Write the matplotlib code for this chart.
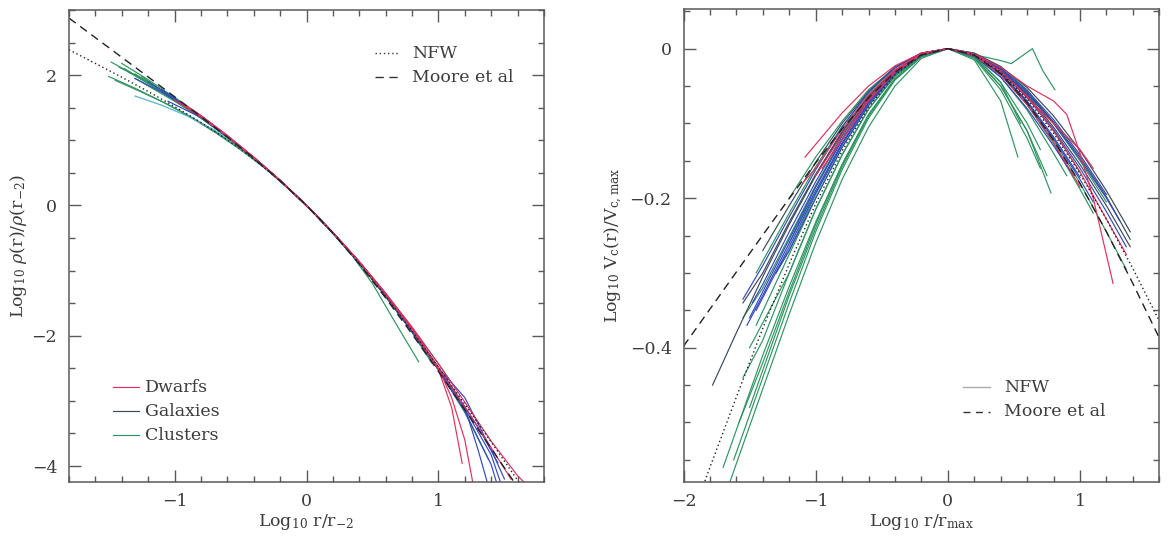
import matplotlib
matplotlib.use('Agg')
import matplotlib.pyplot as plt
from matplotlib.ticker import MultipleLocator
from matplotlib.lines import Line2D

plt.rcParams['font.family'] = ['DejaVu Serif']
plt.rcParams['mathtext.fontset'] = 'dejavuserif'

# ---------------- left panel: density profiles ----------------
nfw_rho_x = [-1.8, -1.6, -1.4, -1.2, -1.0, -0.8, -0.6, -0.4, -0.2, 0.0, 0.2, 0.4, 0.6, 0.8, 1.0, 1.2, 1.4, 1.6, 1.7]
nfw_rho_y = [2.39, 2.18, 1.968, 1.749, 1.519, 1.274, 1.007, 0.711, 0.377, 0.0, -0.423, -0.889, -1.392, -1.926, -2.481, -3.051, -3.632, -4.219, -4.515]
moore_rho_x = [-1.8, -1.6, -1.4, -1.2, -1.0, -0.8, -0.6, -0.4, -0.2, 0.0, 0.2, 0.4, 0.6, 0.8, 1.0, 1.2, 1.4, 1.6, 1.7]
moore_rho_y = [2.876, 2.575, 2.274, 1.973, 1.669, 1.362, 1.050, 0.725, 0.379, 0.0, -0.424, -0.900, -1.420, -1.974, -2.549, -3.136, -3.730, -4.326, -4.625]

cluster_rho_x = [
    [-1.42, -1.2, -1.0, -0.8, -0.6, -0.4, -0.2, 0.0, 0.2, 0.4, 0.6, 0.8, 1.0],
    [-1.35, -1.2, -1.0, -0.8, -0.6, -0.4, -0.2, 0.0, 0.2, 0.4, 0.6, 0.8, 0.95],
    [-1.5, -1.3, -1.1, -0.9, -0.7, -0.5, -0.3, -0.1, 0.1, 0.3, 0.5, 0.7, 0.85],
    [-1.3, -1.0, -0.8, -0.6, -0.4, -0.2, 0.0, 0.2, 0.35, 0.5, 0.65, 0.85],
    [-1.4, -1.2, -1.0, -0.8, -0.6, -0.4, -0.2, 0.0, 0.2, 0.4, 0.6, 0.8, 1.0, 1.1],
    [-1.25, -1.0, -0.8, -0.6, -0.4, -0.2, 0.0, 0.2, 0.4, 0.6, 0.8, 0.95],
    [-1.2, -1.0, -0.8, -0.6, -0.4, -0.2, 0.0, 0.2, 0.4, 0.6, 0.8, 1.0, 1.05],
    [-1.38, -1.2, -1.0, -0.8, -0.6, -0.4, -0.2, 0.0, 0.2, 0.4, 0.6, 0.8, 1.0, 1.2, 1.38],
    [-1.48, -1.3, -1.1, -0.9, -0.7, -0.5, -0.3, -0.1, 0.1, 0.3, 0.5, 0.7],
    [-1.45, -1.25, -1.05, -0.85, -0.65, -0.45, -0.25, -0.05, 0.15, 0.35, 0.55, 0.75],
    [-1.3, -1.1, -0.9, -0.7, -0.5, -0.3, -0.1, 0.1, 0.3, 0.5, 0.7, 0.9, 1.0],
]
cluster_rho_y = [
    [2.12, 1.90, 1.64, 1.37, 1.06, 0.73, 0.38, 0.0, -0.42, -0.87, -1.36, -1.90, -2.50],
    [2.05, 1.87, 1.62, 1.36, 1.05, 0.73, 0.38, 0.0, -0.42, -0.88, -1.38, -1.93, -2.40],
    [1.98, 1.80, 1.60, 1.38, 1.13, 0.855, 0.545, 0.19, -0.205, -0.65, -1.135, -1.66, -2.07],
    [1.95, 1.60, 1.34, 1.05, 0.73, 0.38, 0.0, -0.43, -0.78, -1.20, -1.72, -2.40],
    [2.18, 1.93, 1.66, 1.38, 1.07, 0.74, 0.385, 0.0, -0.415, -0.86, -1.35, -1.87, -2.43, -2.72],
    [1.98, 1.62, 1.35, 1.05, 0.73, 0.38, 0.0, -0.42, -0.88, -1.39, -1.95, -2.42],
    [1.88, 1.61, 1.34, 1.05, 0.73, 0.38, 0.0, -0.42, -0.88, -1.38, -1.93, -2.52, -2.68],
    [2.10, 1.88, 1.63, 1.36, 1.06, 0.735, 0.383, 0.0, -0.42, -0.88, -1.38, -1.93, -2.52, -3.18, -3.90],
    [2.20, 2.00, 1.77, 1.51, 1.22, 0.90, 0.56, 0.195, -0.205, -0.65, -1.14, -1.67],
    [1.92, 1.74, 1.55, 1.33, 1.08, 0.80, 0.47, 0.095, -0.31, -0.76, -1.26, -1.79],
    [2.02, 1.76, 1.50, 1.21, 0.89, 0.555, 0.19, -0.205, -0.65, -1.14, -1.66, -2.22, -2.50],
]
cyan_rho_x = [-1.3, -1.1, -0.9, -0.7, -0.5, -0.3, -0.1, 0.1, 0.3, 0.5, 0.7, 0.9]
cyan_rho_y = [1.68, 1.54, 1.37, 1.16, 0.90, 0.57, 0.19, -0.21, -0.66, -1.14, -1.66, -2.20]

galaxy_rho_x = [
    [-1.1, -1.0, -0.8, -0.6, -0.4, -0.2, 0.0, 0.2, 0.4, 0.6, 0.8, 1.0, 1.2, 1.4, 1.47],
    [-1.0, -0.8, -0.6, -0.4, -0.2, 0.0, 0.2, 0.4, 0.6, 0.8, 1.0, 1.2, 1.4, 1.44],
    [-0.9, -0.8, -0.6, -0.4, -0.2, 0.0, 0.2, 0.4, 0.6, 0.8, 1.0, 1.1, 1.2, 1.3, 1.4, 1.5],
    [-1.2, -1.0, -0.8, -0.6, -0.4, -0.2, 0.0, 0.2, 0.4, 0.6, 0.8, 1.0, 1.2, 1.3, 1.37],
    [-1.05, -0.8, -0.6, -0.4, -0.2, 0.0, 0.2, 0.4, 0.6, 0.8, 1.0, 1.2],
    [-1.3, -1.1, -0.9, -0.7, -0.5, -0.3, -0.1, 0.1, 0.3, 0.5, 0.7, 0.9, 1.1, 1.3, 1.45],
]
galaxy_rho_y = [
    [1.78, 1.64, 1.37, 1.06, 0.735, 0.383, 0.0, -0.418, -0.872, -1.37, -1.91, -2.49, -3.12, -3.83, -4.25],
    [1.63, 1.36, 1.06, 0.73, 0.38, 0.0, -0.42, -0.875, -1.375, -1.92, -2.51, -3.16, -3.98, -4.25],
    [1.50, 1.37, 1.06, 0.735, 0.383, 0.0, -0.418, -0.87, -1.37, -1.90, -2.50, -2.72, -2.95, -3.35, -3.75, -4.20],
    [1.90, 1.64, 1.36, 1.06, 0.735, 0.383, 0.0, -0.418, -0.87, -1.37, -1.91, -2.49, -3.10, -3.75, -4.25],
    [1.60, 1.35, 1.05, 0.73, 0.38, 0.0, -0.42, -0.88, -1.39, -1.94, -2.53, -3.15],
    [1.95, 1.74, 1.50, 1.22, 0.90, 0.56, 0.19, -0.205, -0.648, -1.13, -1.65, -2.20, -2.78, -3.40, -3.95],
]

dwarf_rho_x = [
    [-0.95, -0.8, -0.6, -0.4, -0.2, 0.0, 0.2, 0.4, 0.6, 0.8, 1.0, 1.1, 1.2, 1.26],
    [-0.9, -0.8, -0.6, -0.4, -0.2, 0.0, 0.2, 0.4, 0.6, 0.8, 1.0, 1.2, 1.4, 1.6, 1.65],
    [-0.85, -0.6, -0.4, -0.2, 0.0, 0.2, 0.4, 0.6, 0.8, 1.0, 1.1, 1.18],
    [-1.0, -0.8, -0.6, -0.4, -0.2, 0.0, 0.2, 0.4, 0.6, 0.8, 1.0, 1.2, 1.4, 1.55],
    [-0.95, -0.8, -0.6, -0.4, -0.2, 0.0, 0.2, 0.4, 0.6, 0.8, 0.9],
]
dwarf_rho_y = [
    [1.58, 1.38, 1.075, 0.74, 0.385, 0.0, -0.415, -0.865, -1.355, -1.89, -2.50, -2.95, -3.60, -4.25],
    [1.50, 1.37, 1.065, 0.735, 0.383, 0.0, -0.416, -0.866, -1.35, -1.87, -2.43, -3.02, -3.62, -4.15, -4.25],
    [1.45, 1.07, 0.74, 0.385, 0.0, -0.42, -0.87, -1.36, -1.90, -2.52, -3.10, -3.96],
    [1.62, 1.36, 1.06, 0.73, 0.38, 0.0, -0.42, -0.87, -1.37, -1.91, -2.49, -3.10, -3.72, -4.20],
    [1.56, 1.37, 1.07, 0.74, 0.386, 0.0, -0.414, -0.862, -1.35, -1.88, -2.16],
]

# ---------------- right panel: circular velocity ----------------
nfw_v_x = [-2.0, -1.8, -1.6, -1.4, -1.2, -1.0, -0.8, -0.6, -0.4, -0.2, 0.0, 0.2, 0.4, 0.6, 0.8, 1.0, 1.2, 1.4, 1.6]
nfw_v_y = [-0.657, -0.560, -0.466, -0.374, -0.288, -0.2076, -0.1368, -0.0783, -0.0350, -0.0086, 0.0, -0.0082, -0.0314, -0.0671, -0.1131, -0.1674, -0.2282, -0.2941, -0.3643]
moore_v_x = [-2.0, -1.8, -1.6, -1.4, -1.2, -1.0, -0.8, -0.6, -0.4, -0.2, 0.0, 0.2, 0.4, 0.6, 0.8, 1.0, 1.2, 1.4, 1.6]
moore_v_y = [-0.398, -0.3484, -0.2987, -0.2493, -0.2004, -0.1528, -0.1073, -0.0659, -0.0316, -0.0083, 0.0, -0.0087, -0.0337, -0.0726, -0.1224, -0.1805, -0.2449, -0.3141, -0.3870]

cluster_v_x = [
    [-1.65, -1.4, -1.2, -1.0, -0.8, -0.6, -0.4, -0.2, 0.0, 0.2, 0.4, 0.53],
    [-1.62, -1.4, -1.2, -1.0, -0.8, -0.6, -0.4, -0.2, 0.0, 0.2, 0.4, 0.6, 0.78],
    [-1.5, -1.2, -1.0, -0.8, -0.6, -0.4, -0.2, 0.0, 0.2, 0.4, 0.48, 0.56, 0.64, 0.72, 0.81],
    [-1.55, -1.4, -1.2, -1.0, -0.8, -0.6, -0.4, -0.2, 0.0, 0.2, 0.4, 0.6, 0.8, 1.0, 1.2, 1.35],
    [-1.5, -1.4, -1.2, -1.0, -0.8, -0.6, -0.4, -0.2, 0.0, 0.2, 0.4, 0.6, 0.7],
    [-1.3, -1.2, -1.0, -0.8, -0.6, -0.4, -0.2, 0.0, 0.2, 0.4, 0.6, 0.8, 1.0],
    [-1.7, -1.6, -1.4, -1.2, -1.0, -0.8, -0.6, -0.4, -0.2, 0.0, 0.2, 0.4, 0.6, 0.8, 0.9],
    [-1.55, -1.4, -1.2, -1.0, -0.8, -0.6, -0.4, -0.2, 0.0, 0.2, 0.4, 0.6, 0.75],
    [-1.2, -1.0, -0.8, -0.6, -0.4, -0.2, 0.0, 0.2, 0.4, 0.6, 0.8, 1.0, 1.1],
    [-1.45, -1.2, -1.0, -0.8, -0.6, -0.4, -0.2, 0.0, 0.2, 0.4, 0.55],
    [-0.9, -0.8, -0.6, -0.4, -0.2, 0.0, 0.2, 0.4, 0.6, 0.8, 1.0, 1.2],
    [-1.2, -1.0, -0.8, -0.6, -0.4, -0.2, 0.0, 0.2, 0.4, 0.6],
    [-1.58, -1.4, -1.2, -1.0, -0.8, -0.6, -0.4, -0.2, 0.0, 0.2, 0.4, 0.6, 0.7],
    [-1.45, -1.2, -1.0, -0.8, -0.6, -0.4, -0.2, 0.0, 0.2, 0.4, 0.6, 0.8],
]
cluster_v_y = [
    [-0.58, -0.455, -0.355, -0.26, -0.175, -0.105, -0.05, -0.013, 0.0, -0.015, -0.07, -0.145],
    [-0.55, -0.44, -0.34, -0.245, -0.162, -0.093, -0.042, -0.011, 0.0, -0.012, -0.05, -0.11, -0.193],
    [-0.40, -0.30, -0.215, -0.142, -0.081, -0.037, -0.010, 0.0, -0.008, -0.016, -0.02, -0.01, 0.0, -0.03, -0.055],
    [-0.44, -0.39, -0.30, -0.215, -0.142, -0.081, -0.036, -0.009, 0.0, -0.009, -0.034, -0.073, -0.122, -0.18, -0.245, -0.295],
    [-0.48, -0.43, -0.33, -0.24, -0.158, -0.09, -0.041, -0.011, 0.0, -0.011, -0.045, -0.10, -0.135],
    [-0.30, -0.27, -0.195, -0.128, -0.073, -0.033, -0.008, 0.0, -0.008, -0.030, -0.065, -0.11, -0.165],
    [-0.56, -0.51, -0.41, -0.318, -0.232, -0.155, -0.089, -0.04, -0.01, 0.0, -0.01, -0.038, -0.082, -0.14, -0.17],
    [-0.36, -0.32, -0.252, -0.183, -0.12, -0.068, -0.03, -0.008, 0.0, -0.012, -0.05, -0.11, -0.17],
    [-0.26, -0.185, -0.122, -0.07, -0.031, -0.008, 0.0, -0.009, -0.035, -0.075, -0.127, -0.188, -0.22],
    [-0.37, -0.275, -0.20, -0.132, -0.076, -0.034, -0.009, 0.0, -0.01, -0.045, -0.10],
    [-0.14, -0.115, -0.066, -0.03, -0.008, 0.0, -0.007, -0.028, -0.06, -0.10, -0.15, -0.205],
    [-0.20, -0.145, -0.097, -0.055, -0.025, -0.006, 0.0, -0.008, -0.032, -0.07],
    [-0.50, -0.42, -0.325, -0.235, -0.155, -0.088, -0.04, -0.01, 0.0, -0.013, -0.055, -0.12, -0.16],
    [-0.30, -0.22, -0.158, -0.104, -0.06, -0.026, -0.006, 0.0, -0.006, -0.024, -0.055, -0.10],
]
dark_v_x = [
    [-1.78, -1.6, -1.4, -1.2, -1.0, -0.8, -0.6, -0.4, -0.2, 0.0, 0.2, 0.4, 0.6, 0.8, 1.0, 1.2, 1.38],
    [-1.55, -1.4, -1.2, -1.0, -0.8, -0.6, -0.4, -0.2, 0.0, 0.2, 0.4, 0.6, 0.8, 1.0, 1.2, 1.38],
    [-1.4, -1.2, -1.0, -0.8, -0.6, -0.4, -0.2, 0.0, 0.2, 0.4, 0.6, 0.8, 1.0, 1.2, 1.38],
]
dark_v_y = [
    [-0.45, -0.38, -0.305, -0.235, -0.17, -0.112, -0.064, -0.029, -0.008, 0.0, -0.007, -0.027, -0.058, -0.098, -0.145, -0.198, -0.255],
    [-0.34, -0.30, -0.232, -0.168, -0.111, -0.063, -0.029, -0.007, 0.0, -0.008, -0.029, -0.062, -0.105, -0.155, -0.21, -0.265],
    [-0.27, -0.21, -0.152, -0.10, -0.057, -0.025, -0.006, 0.0, -0.006, -0.024, -0.052, -0.09, -0.136, -0.19, -0.245],
]
galaxy_v_x = [
    [-1.5, -1.4, -1.2, -1.0, -0.8, -0.6, -0.4, -0.2, 0.0, 0.2, 0.4, 0.6, 0.8, 1.0, 1.2, 1.35],
    [-1.52, -1.4, -1.2, -1.0, -0.8, -0.6, -0.4, -0.2, 0.0, 0.2, 0.4, 0.6, 0.8, 1.0, 1.1],
    [-1.48, -1.4, -1.2, -1.0, -0.8, -0.6, -0.4, -0.2, 0.0, 0.2, 0.4, 0.6, 0.8, 1.0, 1.2, 1.3],
    [-1.45, -1.2, -1.0, -0.8, -0.6, -0.4, -0.2, 0.0, 0.2, 0.4, 0.6, 0.8, 1.0],
    [-1.3, -1.2, -1.0, -0.8, -0.6, -0.4, -0.2, 0.0, 0.2, 0.4, 0.6, 0.8, 0.95],
    [-1.55, -1.4, -1.2, -1.0, -0.8, -0.6, -0.4, -0.2, 0.0, 0.2, 0.4, 0.6, 0.8, 1.0, 1.2],
]
galaxy_v_y = [
    [-0.36, -0.325, -0.255, -0.185, -0.122, -0.07, -0.031, -0.008, 0.0, -0.008, -0.03, -0.064, -0.108, -0.16, -0.218, -0.265],
    [-0.37, -0.33, -0.26, -0.19, -0.126, -0.072, -0.032, -0.008, 0.0, -0.009, -0.034, -0.072, -0.12, -0.175, -0.205],
    [-0.34, -0.315, -0.245, -0.178, -0.117, -0.067, -0.03, -0.008, 0.0, -0.007, -0.028, -0.06, -0.10, -0.148, -0.20, -0.23],
    [-0.35, -0.265, -0.193, -0.128, -0.073, -0.033, -0.008, 0.0, -0.009, -0.033, -0.07, -0.118, -0.172],
    [-0.30, -0.27, -0.20, -0.132, -0.076, -0.034, -0.009, 0.0, -0.01, -0.038, -0.08, -0.13, -0.17],
    [-0.335, -0.29, -0.225, -0.162, -0.105, -0.058, -0.025, -0.006, 0.0, -0.007, -0.026, -0.056, -0.095, -0.142, -0.195],
]
dwarf_v_x = [
    [-1.08, -1.0, -0.8, -0.6, -0.4, -0.2, 0.0, 0.2, 0.4, 0.6, 0.8, 0.9, 1.0, 1.1, 1.25],
    [-1.0, -0.8, -0.6, -0.4, -0.2, 0.0, 0.2, 0.4, 0.6, 0.8, 1.0, 1.2, 1.35],
    [-1.1, -1.0, -0.8, -0.6, -0.4, -0.2, 0.0, 0.2, 0.4, 0.6, 0.8, 1.0, 1.1],
    [-0.95, -0.8, -0.6, -0.4, -0.2, 0.0, 0.2, 0.4, 0.6, 0.8, 1.0],
]
dwarf_v_y = [
    [-0.145, -0.128, -0.086, -0.05, -0.023, -0.006, 0.0, -0.007, -0.025, -0.05, -0.07, -0.088, -0.14, -0.20, -0.314],
    [-0.17, -0.115, -0.067, -0.03, -0.008, 0.0, -0.008, -0.03, -0.064, -0.11, -0.165, -0.228, -0.275],
    [-0.18, -0.16, -0.108, -0.062, -0.028, -0.007, 0.0, -0.008, -0.03, -0.066, -0.10, -0.135, -0.16],
    [-0.16, -0.122, -0.07, -0.032, -0.008, 0.0, -0.009, -0.035, -0.075, -0.125, -0.185],
]

left_xticks = [-1, 0, 1]
left_yticks = [2, 0, -2, -4]
right_xticks = [-2, -1, 0, 1]
right_yticks = [0, -0.2, -0.4]
right_yticklabels = ['0', '\u22120.2', '\u22120.4']

# ---------------- style ----------------
C_DWARF = '#e0305c'
C_GAL = '#3348c0'
C_CLU = '#2e9560'
C_CYAN = '#4fb0d0'
C_DARK = '#3a4a5a'
TXT = '#3c3c3c'
AXC = '#5a5a5a'
LW = 0.85

W, H = 1168, 541
fig = plt.figure(figsize=(W / 100, H / 100), dpi=100)

def fx(px):
    return px / W

def fy(py):
    return 1 - py / H

axL = fig.add_axes([fx(69), fy(482.3), fx(544 - 69), (482.3 - 10) / H])
axR = fig.add_axes([fx(683.5), fy(482.3), fx(1159.3 - 683.5), (482.3 - 9) / H])

for ax in (axL, axR):
    for sp in ax.spines.values():
        sp.set_color(AXC)
        sp.set_linewidth(1.1)
    ax.tick_params(which='both', direction='in', top=True, right=True,
                   color=AXC, labelcolor=TXT, labelsize=12.5, width=1.0)
    ax.tick_params(which='major', length=8.5)
    ax.tick_params(which='minor', length=4.5)
    ax.tick_params(axis='x', pad=8)
    ax.tick_params(axis='y', pad=8.5)

# left panel
for xs, ys in zip(cluster_rho_x, cluster_rho_y):
    axL.plot(xs, ys, color=C_CLU, lw=LW)
axL.plot(cyan_rho_x, cyan_rho_y, color=C_CYAN, lw=LW)
for xs, ys in zip(galaxy_rho_x, galaxy_rho_y):
    axL.plot(xs, ys, color=C_GAL, lw=LW)
for xs, ys in zip(dwarf_rho_x, dwarf_rho_y):
    axL.plot(xs, ys, color=C_DWARF, lw=LW)
axL.plot(nfw_rho_x, nfw_rho_y, color='#222222', lw=1.0, ls=(0, (1, 2)))
axL.plot(moore_rho_x, moore_rho_y, color='#222222', lw=1.0, ls=(0, (6, 4)))

axL.set_xlim(-1.8, 1.8)
axL.set_ylim(-4.25, 3.0)
axL.set_xticks(left_xticks)
axL.set_yticks(left_yticks)
axL.xaxis.set_minor_locator(MultipleLocator(0.2))
axL.yaxis.set_minor_locator(MultipleLocator(0.5))
axL.set_xlabel(r'Log$_{10}$ r/r$_{-2}$', fontsize=12.5, color=TXT)
axL.xaxis.set_label_coords(0.5, -0.062)
axL.set_ylabel(r'Log$_{10}$ $\rho$(r)/$\rho$(r$_{-2}$)', fontsize=12.5, color=TXT)
axL.yaxis.set_label_coords(-0.085, 0.5)

# right panel
for xs, ys in zip(cluster_v_x, cluster_v_y):
    axR.plot(xs, ys, color=C_CLU, lw=LW)
for xs, ys in zip(dark_v_x, dark_v_y):
    axR.plot(xs, ys, color=C_DARK, lw=LW)
for xs, ys in zip(galaxy_v_x, galaxy_v_y):
    axR.plot(xs, ys, color=C_GAL, lw=LW)
for xs, ys in zip(dwarf_v_x, dwarf_v_y):
    axR.plot(xs, ys, color=C_DWARF, lw=LW)
axR.plot(nfw_v_x, nfw_v_y, color='#222222', lw=1.0, ls=(0, (1, 2)))
axR.plot(moore_v_x, moore_v_y, color='#222222', lw=1.0, ls=(0, (6, 4)))

axR.set_xlim(-2.0, 1.6)
axR.set_ylim(-0.58, 0.053)
axR.set_xticks(right_xticks)
axR.set_yticks(right_yticks)
axR.set_yticklabels(right_yticklabels)
axR.xaxis.set_minor_locator(MultipleLocator(0.2))
axR.yaxis.set_minor_locator(MultipleLocator(0.05))
axR.set_xlabel(r'Log$_{10}$ r/r$_{\rm max}$', fontsize=12.5, color=TXT)
axR.xaxis.set_label_coords(0.5, -0.062)
axR.set_ylabel(r'Log$_{10}$ V$_{\rm c}$(r)/V$_{\rm c,max}$', fontsize=12.5, color=TXT)
axR.yaxis.set_label_coords(-0.122, 0.5)

# legends (drawn by hand, figure pixel positions)
def leg_line(x0, x1, y, **kw):
    fig.add_artist(Line2D([fx(x0), fx(x1)], [fy(y), fy(y)], transform=fig.transFigure, **kw))

def leg_text(x, y, s):
    fig.text(fx(x), fy(y), s, fontsize=12.5, color=TXT, ha='left', va='center')

leg_line(375, 400, 53, color='#333333', lw=1.0, ls=(0, (1, 2)))
leg_text(412, 53, 'NFW')
leg_line(375, 400, 77, color='#333333', lw=1.0, ls=(0, (6, 4)))
leg_text(412, 77, 'Moore et al')

leg_line(113, 139, 387, color=C_DWARF, lw=LW)
leg_text(145, 387, 'Dwarfs')
leg_line(113, 139, 411, color=C_DARK, lw=LW)
leg_text(145, 411, 'Galaxies')
leg_line(113, 139, 435, color=C_CLU, lw=LW)
leg_text(145, 435, 'Clusters')

leg_line(963, 990, 387, color='#aaaaaa', lw=1.0)
leg_text(1004, 387, 'NFW')
leg_line(963, 990, 412, color='#333333', lw=1.0, ls=(0, (5, 4)))
leg_text(1004, 412, 'Moore et al')

fig.savefig('out.png', dpi=100, facecolor='white')
